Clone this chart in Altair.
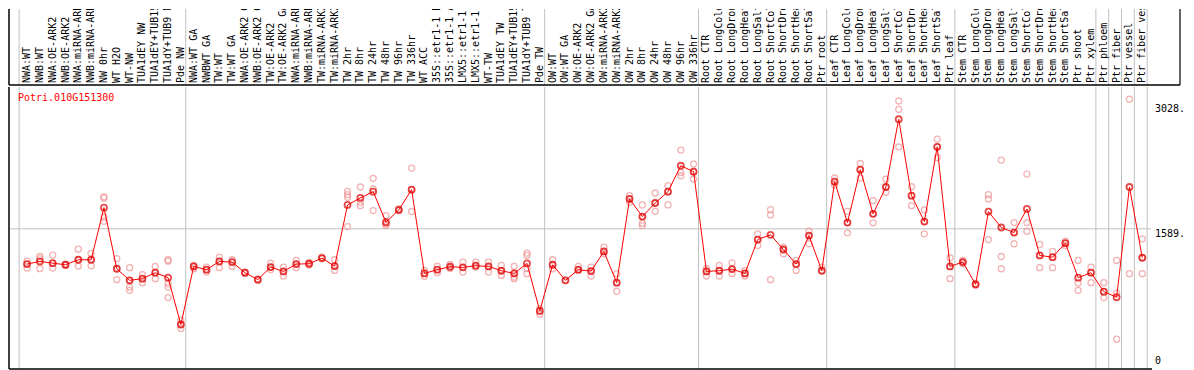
import altair as alt
import pandas as pd

gene = "Potri.010G151300"

labels = [
    "NWA:WT", "NWB:WT", "NWA:OE-ARK2", "NWB:OE-ARK2", "NWA:miRNA-ARK2", "NWB:miRNA-ARK2",
    "NW 0hr", "WT H2O", "WT-NW", "TUA1dEY NW", "TUA1dEY+TUB15 NW", "TUA1dY+TUB9 NW", "Pde NW",
    "NWA:WT GA", "NWBWT GA", "TW:WT", "TW:WT GA", "NWA:OE-ARK2 GA", "NWB:OE-ARK2 GA",
    "TW:OE-ARK2", "TW:OE-ARK2 GA", "NWA:miRNA-ARK2 GA", "NWB:miRNA-ARK2 GA", "TW:miRNA-ARK2",
    "TW:miRNA-ARK2 GA", "TW 2hr", "TW 8hr", "TW 24hr", "TW 48hr", "TW 96hr", "TW 336hr",
    "WT ACC", "35S::etr1-1 H2O", "35S::etr1-1 ACC", "LMX5::etr1-1 H2O", "LMX5::etr1-1 ACC",
    "WT-TW", "TUA1dEY TW", "TUA1dEY+TUB15 TW", "TUA1dY+TUB9 TW", "Pde TW",
    "OW:WT", "OW:WT GA", "OW:OE-ARK2", "OW:OE-ARK2 GA", "OW:miRNA-ARK2", "OW:miRNA-ARK2 GA",
    "OW 2hr", "OW 8hr", "OW 24hr", "OW 48hr", "OW 96hr", "OW 336hr",
    "Root CTR", "Root LongCold", "Root LongDrought", "Root LongHeat", "Root LongSalt",
    "Root ShortCold", "Root ShortDrought", "Root ShortHeat", "Root ShortSalt", "Ptr root",
    "Leaf CTR", "Leaf LongCold", "Leaf LongDrought", "Leaf LongHeat", "Leaf LongSalt",
    "Leaf ShortCold", "Leaf ShortDrought", "Leaf ShortHeat", "Leaf ShortSalt", "Ptr leaf",
    "Stem CTR", "Stem LongCold", "Stem LongDrought", "Stem LongHeat", "Stem LongSalt",
    "Stem ShortCold", "Stem ShortDrought", "Stem ShortHeat", "Stem ShortSalt", "Ptr shoot",
    "Ptr xylem", "Ptr phloem", "Ptr fiber", "Ptr vessel", "Ptr fiber vessel",
]

means = [
    1181, 1212, 1192, 1173, 1231, 1231, 1834, 1127, 993, 1012, 1081, 1024, 482,
    1154, 1116, 1212, 1204, 1081, 1001, 1146, 1096, 1181, 1185, 1250, 1158,
    1865, 1946, 2019, 1665, 1808, 2042, 1073, 1116, 1150, 1143, 1162, 1154, 1104, 1073, 1189, 639,
    1173, 993, 1116, 1100, 1327, 966, 1935, 1731, 1888, 2019, 2319, 2250,
    1096, 1104, 1123, 1073, 1465, 1520, 1350, 1181, 1511, 1104,
    2134, 1661, 2273, 1762, 2073, 2857, 1973, 1673, 2538, 1154,
    1204, 947, 1788, 1604, 1546, 1819, 1281, 1261, 1423, 1024, 1081,
    862, 797, 2073, 1254,
]

reps = [
    [1215, 1181, 1135], [1269, 1243, 1128], [1285, 1192, 1135], [1180, 1173, 1165],
    [1354, 1231, 1158], [1304, 1231, 1162], [1958, 1946, 1723, 1677], [1243, 1127, 1001],
    [1139, 993, 915, 877], [1058, 1012, 966], [1154, 1081, 1012], [1231, 1215, 954, 915, 793],
    [532, 482, 436],
    [1166, 1154, 1127], [1146, 1116, 1089], [1261, 1212, 1139], [1231, 1204, 1154],
    [1089, 1081, 1073], [1008, 1001, 995], [1193, 1146, 1116], [1146, 1096, 1043],
    [1223, 1181, 1139], [1200, 1185, 1170], [1262, 1250, 1243], [1231, 1158, 1108],
    [2022, 1984, 1953, 1615], [2073, 1896, 1857], [2173, 2050, 1800], [1742, 1646, 1627],
    [1819, 1808, 1800], [2292, 2042, 1788], [1108, 1073, 1039], [1158, 1116, 1081],
    [1177, 1150, 1131], [1204, 1143, 1089], [1204, 1162, 1146], [1204, 1154, 1089],
    [1166, 1104, 1050], [1154, 1073, 1031, 1012], [1308, 1281, 1128, 1070], [666, 639, 601],
    [1231, 1173, 1127], [993], [1154, 1116, 1108], [1146, 1100, 1043], [1377, 1327, 1300],
    [1070, 966, 866], [1973, 1935, 1896], [1865, 1731, 1654, 1627], [2004, 1888, 1792],
    [2088, 2019, 1865], [2500, 2242, 2203], [2338, 2250, 2165],
    [1127, 1096, 1043], [1166, 1104, 1043], [1196, 1123, 1070], [1108, 1073, 1043],
    [1531, 1465, 1396], [1811, 1750, 1001], [1377, 1350, 1300], [1223, 1181, 1108],
    [1561, 1511, 1416], [1146, 1104],
    [2177, 2134, 2096], [1792, 1661, 1543], [2345, 2273, 2177], [1915, 1762, 1658],
    [2165, 2073, 2011], [3068, 2972, 2538], [2077, 1973, 1857], [1808, 1673, 1531],
    [2627, 2538, 2414], [1254, 1154, 1012],
    [1223, 1204, 1185], [954, 947, 935], [1984, 1935, 1465], [2384, 1269, 1127],
    [1661, 1546, 1416], [2223, 1661, 1561], [1408, 1281, 1139], [1327, 1261, 1139],
    [1446, 1423, 1396], [1223, 962, 877], [1146, 1081, 966],
    [966, 862, 793], [1223, 846, 312], [3088, 1070], [1473, 1254, 1070],
]

group_sizes = [13, 28, 12, 10, 10, 11, 1, 1, 1, 1]
axis_values = [0, 1589, 3028]
axis_labels = ["0", "1589.", "3028."]
grid_values = [1589]

# ---- layout ----
FONT = "DejaVu Sans Mono"
W = 1142          # plot width
HH = 76           # header height
HP = 282          # plot height
X0, X1 = -1.408, 87.68
unit = W / (X1 - X0)
HW = W + 29       # header width (extends over the value labels)
X1H = X0 + HW / unit
Y_DOMAIN = [-33, 3230]

cols = pd.DataFrame({"idx": list(range(len(labels))), "label": labels, "mean": means})
reps_df = pd.DataFrame(
    [{"idx": i, "value": v} for i, vs in enumerate(reps) for v in vs]
)
starts = [0]
for g in group_sizes:
    starts.append(starts[-1] + g)
bounds_df = pd.DataFrame({"b": [s - 0.62 for s in starts]})
one = pd.DataFrame({"gene": [gene]})
ticks_df = pd.DataFrame({"v": axis_values, "lab": axis_labels})

xs_plot = alt.Scale(domain=[X0, X1], nice=False, zero=False)
xs_head = alt.Scale(domain=[X0, X1H], nice=False, zero=False)
ys = alt.Scale(domain=Y_DOMAIN, nice=False, zero=False)

GRID = "#C0C0C0"

# ---- plot panel ----
sep = alt.Chart(bounds_df).mark_rule(color=GRID, strokeWidth=1).encode(
    x=alt.X("b:Q", scale=xs_plot, axis=None)
)
grid = alt.Chart(pd.DataFrame({"v": grid_values})).mark_rule(color=GRID, strokeWidth=1).encode(
    y=alt.Y("v:Q", scale=ys, axis=None)
)
rep_pts = alt.Chart(reps_df).mark_point(
    shape="circle", filled=False, size=36, strokeWidth=1.3, color="#EE9494"
).encode(
    x=alt.X("idx:Q", scale=xs_plot, axis=None),
    y=alt.Y("value:Q", scale=ys, axis=None),
)
line = alt.Chart(cols).mark_line(color="#FF0000", strokeWidth=1).encode(
    x=alt.X("idx:Q", scale=xs_plot, axis=None),
    y=alt.Y("mean:Q", scale=ys, axis=None),
)
mean_pts = alt.Chart(cols).mark_point(
    shape="circle", filled=False, size=36, strokeWidth=1.8, color="#E00000"
).encode(
    x=alt.X("idx:Q", scale=xs_plot, axis=None),
    y=alt.Y("mean:Q", scale=ys, axis=None),
)
val_top = alt.Chart(ticks_df).transform_filter("datum.v > 0").mark_text(
    font=FONT, fontSize=10, color="black", align="left", baseline="top"
).encode(
    x=alt.value(W + 4),
    y=alt.Y("v:Q", scale=ys, axis=None),
    text="lab:N",
)
val_zero = alt.Chart(ticks_df).transform_filter("datum.v == 0").mark_text(
    font=FONT, fontSize=10, color="black", align="left", baseline="bottom"
).encode(
    x=alt.value(W + 4),
    y=alt.Y("v:Q", scale=ys, axis=None),
    text="lab:N",
)
left_border = alt.Chart(one).mark_rule(color="black", strokeWidth=1.5).encode(
    x=alt.value(0), y=alt.value(0), y2=alt.value(HP)
)
bottom_border = alt.Chart(one).mark_rule(color="black", strokeWidth=1.5).encode(
    x=alt.value(0), x2=alt.value(W + 1), y=alt.value(HP)
)
title_txt = alt.Chart(one).mark_text(
    font=FONT, fontSize=10, color="#FF0000", align="left", baseline="top"
).encode(x=alt.value(9), y=alt.value(6), text="gene:N")

plot = alt.layer(
    sep, grid, rep_pts, line, mean_pts, val_top, val_zero,
    left_border, bottom_border, title_txt
).properties(width=W, height=HP)

# ---- header panel ----
head_sep = alt.Chart(bounds_df).mark_rule(color=GRID, strokeWidth=1).encode(
    x=alt.X("b:Q", scale=xs_head, axis=None)
)
head_text = alt.Chart(cols).mark_text(
    angle=270, align="left", baseline="middle", font=FONT, fontSize=10,
    color="black", clip=True
).encode(
    x=alt.X("idx:Q", scale=xs_head, axis=None),
    y=alt.value(HH - 2),
    text="label:N",
)
head_bottom = alt.Chart(one).mark_rule(color="black", strokeWidth=1.5).encode(
    x=alt.value(0), x2=alt.value(HW), y=alt.value(HH)
)
head_left = alt.Chart(one).mark_rule(color="black", strokeWidth=1.5).encode(
    x=alt.value(0), y=alt.value(0), y2=alt.value(HH)
)
head_right = alt.Chart(one).mark_rule(color="black", strokeWidth=1.2).encode(
    x=alt.value(HW), y=alt.value(0), y2=alt.value(HH)
)
header = alt.layer(head_sep, head_text, head_bottom, head_left, head_right).properties(
    width=HW, height=HH
)

chart = (
    alt.vconcat(header, plot, spacing=0)
    .resolve_scale(x="independent")
    .properties(padding=0)
    .configure_view(strokeWidth=0)
)

chart.save("out.html", embed_options={"renderer": "svg", "actions": False})
